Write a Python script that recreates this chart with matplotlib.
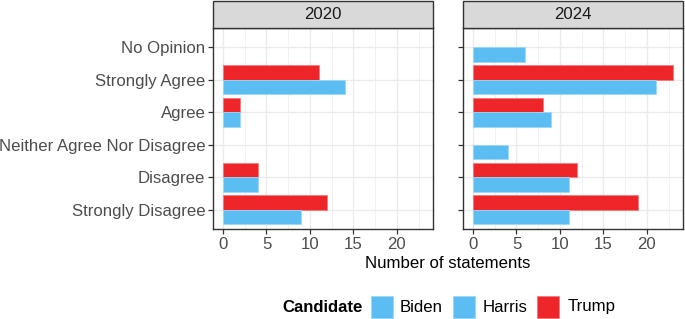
import matplotlib
matplotlib.use("Agg")
import matplotlib.pyplot as plt
import matplotlib.patches as mpatches
import numpy as np

plt.rcParams['font.family'] = ['Liberation Sans', 'DejaVu Sans']

categories = ["No Opinion", "Strongly Agree", "Agree", "Neither Agree Nor Disagree",
              "Disagree", "Strongly Disagree"]
years = ["2020", "2024"]
# values per year: {candidate: list aligned with categories (None = absent)}
trump_2020 = [None, 11, 2, None, 4, 12]
biden_2020 = [None, 14, 2, None, 4, 9]
trump_2024 = [None, 23, 8, None, 12, 19]
harris_2024 = [6, 21, 9, 4, 11, 11]

data = {
    "2020": [("Trump", trump_2020), ("Biden", biden_2020)],
    "2024": [("Trump", trump_2024), ("Harris", harris_2024)],
}
colors = {"Biden": "#5bbdf2", "Harris": "#5bbdf2", "Trump": "#ee2629"}
edge = {"Biden": "#9dd7f6", "Harris": "#9dd7f6", "Trump": "#f47a7c"}

W, H = 685, 319
fig = plt.figure(figsize=(W / 100, H / 100), dpi=100)

def fx(px):
    return px / W

def fy(py):
    return 1 - py / H

panels = [(213, 433), (463, 683)]
ptop, pbot, stop = 28, 229, 1
n = len(categories)
ypos = np.arange(n, 0, -1)  # top category highest
fs = 12.1
grey30 = "#4d4d4d"
grey20 = "#333333"

for i, (yr, (x0, x1)) in enumerate(zip(years, panels)):
    ax = fig.add_axes([fx(x0), fy(pbot), fx(x1) - fx(x0), fy(ptop) - fy(pbot)])
    ax.set_xlim(-1.15, 24.15)
    ax.set_ylim(0.4, n + 0.6)
    ax.set_xticks([0, 5, 10, 15, 20])
    ax.set_xticks([2.5, 7.5, 12.5, 17.5, 22.5], minor=True)
    ax.set_yticks(ypos)
    ax.grid(which="major", color="#ebebeb", linewidth=1.0)
    ax.grid(which="minor", axis="x", color="#ebebeb", linewidth=0.5)
    ax.set_axisbelow(True)
    bw = 0.45
    for (cand, vals) in data[yr]:
        off = bw / 2 if cand == "Trump" else -bw / 2
        for yv, v in zip(ypos, vals):
            if v is None:
                continue
            ax.barh(yv + off, v, height=bw, color=colors[cand],
                    edgecolor=edge[cand], linewidth=0.6, zorder=3)
    for s in ax.spines.values():
        s.set_color(grey20)
        s.set_linewidth(1.0)
    ax.tick_params(axis="both", which="major", color=grey20, length=3.5, width=0.9,
                   labelcolor=grey30, labelsize=fs, pad=2)
    ax.tick_params(axis="x", which="minor", length=0)
    if i == 0:
        ax.set_yticklabels(categories)
    else:
        ax.set_yticklabels([])
    # strip
    strip = mpatches.Rectangle((fx(x0), fy(ptop)), fx(x1) - fx(x0), fy(stop) - fy(ptop),
                               transform=fig.transFigure, facecolor="#d9d9d9",
                               edgecolor=grey20, linewidth=1.0)
    fig.patches.append(strip)
    fig.text(fx((x0 + x1) / 2), fy((ptop + stop) / 2), yr, ha="center", va="center",
             fontsize=fs, color="#1a1a1a")

fig.text(fx(448), fy(264), "Number of statements", ha="center", va="center",
         fontsize=fs, color="black")

# legend
ly = 307
fig.text(fx(282), fy(ly), "Candidate", ha="left", va="center", fontsize=fs,
         fontweight="bold", color="black")
for cand, kx, tx in [("Biden", 371, 400), ("Harris", 453, 483), ("Trump", 537, 568)]:
    r = mpatches.Rectangle((fx(kx), fy(ly + 11)), fx(22), 22 / H,
                           transform=fig.transFigure, facecolor=colors[cand],
                           edgecolor=edge[cand], linewidth=0.6)
    fig.patches.append(r)
    fig.text(fx(tx), fy(ly), cand, ha="left", va="center", fontsize=fs, color="black")

fig.savefig("out.png", dpi=100)
